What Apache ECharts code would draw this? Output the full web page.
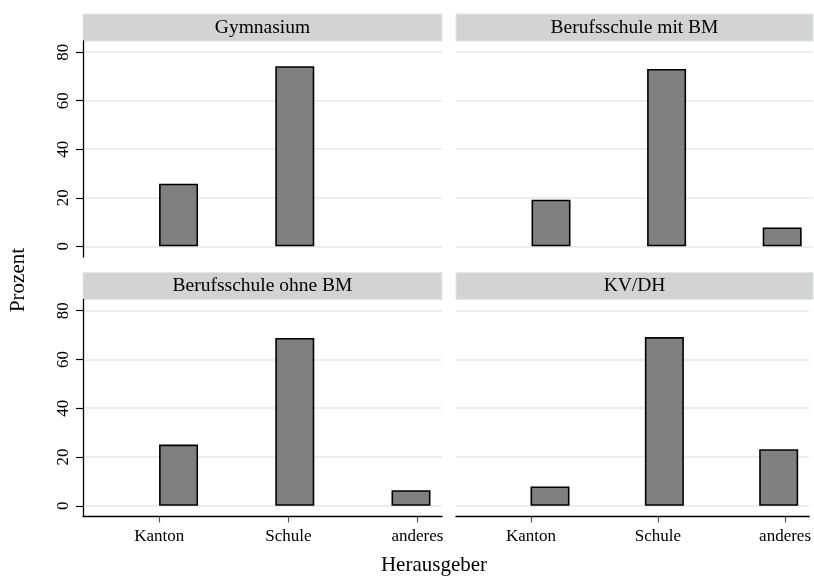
<!DOCTYPE html>
<html>
<head>
<meta charset="utf-8">
<script src="https://cdn.jsdelivr.net/npm/echarts@6/dist/echarts.min.js"></script>
<style>html,body{margin:0;padding:0;background:#fff}#c{width:814px;height:577px}</style>
</head>
<body>
<div id="c"></div>
<script>
// ---- data ----
var categories = ['Kanton', 'Schule', 'anderes'];
var tickPositions = [1, 2, 3];
var barPositions = [1.15, 2.05, 2.95];
var panelTitles = ['Gymnasium', 'Berufsschule mit BM', 'Berufsschule ohne BM', 'KV/DH'];
var gymnasium = [25.8, 74.2, null];
var berufMitBM = [19.2, 73.1, 7.8];
var berufOhneBM = [25.1, 68.8, 6.4];
var kvdh = [7.9, 69.2, 23.2];
var yTicks = [0, 20, 40, 60, 80];
var yTitle = 'Prozent';
var xTitle = 'Herausgeber';

var panelValues = [gymnasium, berufMitBM, berufOhneBM, kvdh];
var FONT = '"Liberation Serif", "Times New Roman", serif';

var grids = [
  {left: 83, top: 41, width: 359, height: 216},
  {left: 456, top: 41, width: 357, height: 216},
  {left: 83, top: 299.5, width: 359, height: 217},
  {left: 456, top: 299.5, width: 357, height: 217}
];

var xAxes = [], yAxes = [], series = [], graphics = [];
grids.forEach(function (g, i) {
  var bottomRow = i >= 2, leftCol = (i % 2) === 0;
  xAxes.push({
    type: 'value', gridIndex: i, min: 0.41, max: 3.19,
    show: bottomRow,
    splitLine: {show: false},
    axisLine: {show: true, onZero: false, lineStyle: {color: '#000', width: 1.3}},
    axisTick: {show: true, length: 6, customValues: tickPositions, lineStyle: {color: '#555', width: 1.2}},
    axisLabel: {
      show: true, customValues: tickPositions, margin: 12,
      fontFamily: FONT, fontSize: 17, color: '#000',
      formatter: function (v) { var k = tickPositions.indexOf(Math.round(v)); return k >= 0 ? categories[k] : ''; }
    }
  });
  yAxes.push({
    type: 'value', gridIndex: i, min: -4.4, max: 84.6,
    axisLine: {show: leftCol, lineStyle: {color: '#000', width: 1.3}},
    axisTick: {show: leftCol, length: 7, customValues: yTicks, lineStyle: {color: '#000', width: 1.2}},
    axisLabel: {show: leftCol, customValues: yTicks, rotate: 90, margin: 11, fontFamily: FONT, fontSize: 17, color: '#000'},
    splitLine: {show: true, lineStyle: {color: '#e8e8e8', width: 1.6}}
  });
  series.push({
    type: 'bar', xAxisIndex: i, yAxisIndex: i, barWidth: 39,
    itemStyle: {color: '#808080', borderColor: '#000', borderWidth: 1.6},
    data: barPositions.map(function (x, k) { return panelValues[i][k] == null ? null : [x, panelValues[i][k]]; })
  });
  graphics.push({
    type: 'rect', shape: {x: g.left, y: g.top - 27, width: g.width, height: 27},
    style: {fill: '#d3d3d3', stroke: '#dde7ec', lineWidth: 1}
  });
  graphics.push({
    type: 'text', x: g.left + g.width / 2, y: g.top - 13.5,
    style: {text: panelTitles[i], fontFamily: FONT, fontSize: 19.5, fill: '#000', align: 'center', verticalAlign: 'middle'}
  });
});
graphics.push({
  type: 'text', x: 18, y: 280, rotation: Math.PI / 2,
  style: {text: yTitle, fontFamily: FONT, fontSize: 21, fill: '#000', align: 'center', verticalAlign: 'middle'}
});
graphics.push({
  type: 'text', x: 434, y: 565,
  style: {text: xTitle, fontFamily: FONT, fontSize: 21, fill: '#000', align: 'center', verticalAlign: 'middle'}
});

var chart = echarts.init(document.getElementById('c'), null, {renderer: 'canvas'});
chart.setOption({
  animation: false,
  backgroundColor: '#fff',
  grid: grids,
  xAxis: xAxes,
  yAxis: yAxes,
  series: series,
  graphic: graphics
});
</script>
</body>
</html>
